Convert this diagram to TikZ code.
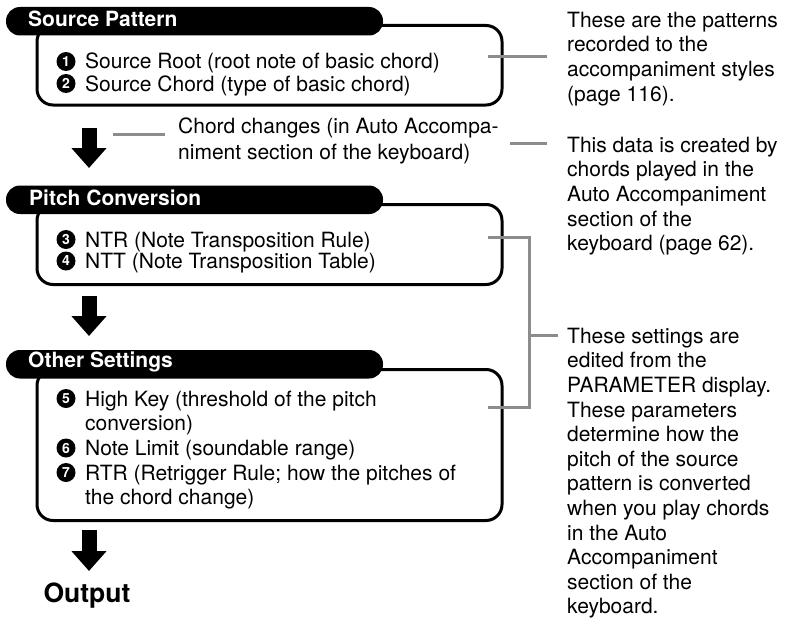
\documentclass[tikz,border=0pt]{standalone}
\usepackage{fontspec}
\setmainfont{TeX Gyre Heros}
\usetikzlibrary{arrows.meta}
\definecolor{conn}{HTML}{8C8C8C}
\begin{document}
\begin{tikzpicture}[x=1pt,y=-1pt,
  frame/.style={draw=black, line width=3pt, rounded corners=16pt, anchor=north west, inner sep=0pt, outer sep=0pt},
  tabshape/.style={fill=black, rounded corners=14pt, anchor=north west, inner sep=0pt, outer sep=0pt, minimum width=377pt, minimum height=28.5pt},
  tabtext/.style={anchor=base west, inner sep=0pt, text=white, font=\fontsize{21}{25}\selectfont\bfseries},
  item/.style={anchor=base west, inner sep=0pt, font=\fontsize{21}{25}\selectfont},
  numc/.style={circle, fill=black, text=white, inner sep=0pt, minimum size=19pt, font=\fontsize{14}{14}\selectfont\bfseries},
  note/.style={anchor=north west, inner sep=0pt, align=left, font=\fontsize{21}{24.6}\selectfont},
  conline/.style={draw=conn, line width=3pt},
  bigarrow/.style={line width=15pt, -{Triangle[width=34pt,length=20pt]}}
]
\useasboundingbox (0,0) rectangle (789,626);

% ---------- box 1 ----------
\node[frame, minimum width=465pt, minimum height=79.5pt] (b1) at (37,25.5) {};
\node[tabshape] (t1) at (6,7) {};
\node[tabtext] (t1t) at (28,27) {Source Pattern};
\node[numc] (c1) at (66,61.5) {1};
\node[item] (i1) at (85,69) {Source Root (root note of basic chord)};
\node[numc] (c2) at (66,83.5) {2};
\node[item] (i2) at (85,91) {Source Chord (type of basic chord)};

% ---------- arrow 1 ----------
\coordinate (a1s) at (89,128);
\coordinate (a1e) at (89,168);
\draw[bigarrow] (a1s) -- (a1e);
\node[note, font=\fontsize{21}{26.5}\selectfont] (chord) at (178,114.5)
  {\strut Chord changes (in Auto Accompa-\\niment section of the keyboard)};
\coordinate (cl1) at (113,134);
\coordinate (cl2) at (165,134);
\draw[conline] (cl1) -- (cl2);

% ---------- box 2 ----------
\node[frame, minimum width=465pt, minimum height=80pt] (b2) at (37,204.5) {};
\node[tabshape] (t2) at (6,185.5) {};
\node[tabtext] (t2t) at (29,205) {Pitch Conversion};
\node[numc] (c3) at (66,239.5) {3};
\node[item] (i3) at (85,247) {NTR (Note Transposition Rule)};
\node[numc] (c4) at (66,261) {4};
\node[item] (i4) at (85,268.5) {NTT (Note Transposition Table)};

% ---------- arrow 2 ----------
\coordinate (a2s) at (89,296);
\coordinate (a2e) at (89,336);
\draw[bigarrow] (a2s) -- (a2e);

% ---------- box 3 ----------
\node[frame, minimum width=465pt, minimum height=151pt] (b3) at (37,369.5) {};
\node[tabshape] (t3) at (6,350) {};
\node[tabtext] (t3t) at (28,367) {Other Settings};
\node[numc] (c5) at (66,398.5) {5};
\node[item] (i5) at (85,406) {High Key (threshold of the pitch};
\node[item] (i5b) at (85,430.5) {conversion)};
\node[numc] (c6) at (66,448) {6};
\node[item] (i6) at (85,455.5) {Note Limit (soundable range)};
\node[numc] (c7) at (66,472.5) {7};
\node[item] (i7) at (85,480) {RTR (Retrigger Rule; how the pitches of};
\node[item] (i7b) at (85,504) {the chord change)};

% ---------- arrow 3 ----------
\coordinate (a3s) at (89,530);
\coordinate (a3e) at (89,571);
\draw[bigarrow] (a3s) -- (a3e);
\node[anchor=base, inner sep=0pt, font=\fontsize{26.5}{30}\selectfont\bfseries] (out) at (87,602) {Output};

% ---------- right notes ----------
\node[note] (n1) at (567,9.8) {\strut These are the patterns\\recorded to the\\accompaniment styles\\(page 116).};
\node[note] (n2) at (567,134.8) {\strut This data is created by\\chords played in the\\Auto Accompaniment\\section of the\\keyboard (page 62).};
\node[note] (n3) at (567,325.8) {\strut These settings are\\edited from the\\PARAMETER display.\\These parameters\\determine how the\\pitch of the source\\pattern is converted\\when you play chords\\in the Auto\\Accompaniment\\section of the\\keyboard.};

% ---------- grey connectors ----------
\coordinate (g1a) at (488,57);
\coordinate (g1b) at (547,57);
\draw[conline] (g1a) -- (g1b);
\coordinate (g2a) at (510,143);
\coordinate (g2b) at (547,143);
\draw[conline] (g2a) -- (g2b);
\coordinate (g3a) at (488,237);
\coordinate (g3b) at (488,407);
\coordinate (g3m) at (529.5,335);
\coordinate (g3c) at (558,335);
\draw[conline] (g3a) -| (g3m) |- (g3b);
\draw[conline] (g3m) -- (g3c);
\end{tikzpicture}
\end{document}
